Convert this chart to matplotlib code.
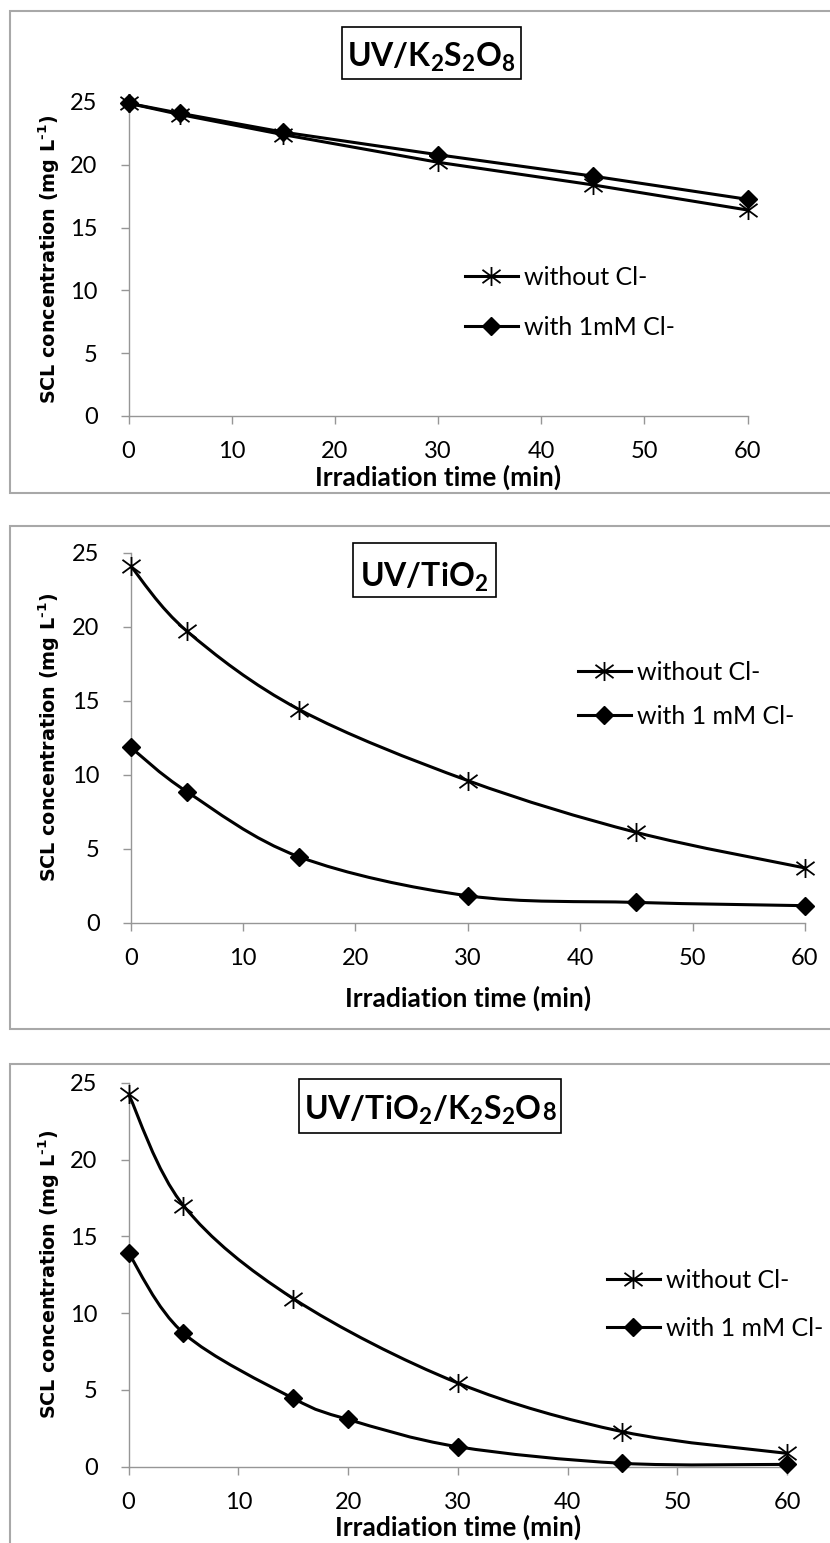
import numpy as np
import matplotlib
matplotlib.use("Agg")
import matplotlib.pyplot as plt
from matplotlib.path import Path
from matplotlib.patches import PathPatch, Rectangle
from matplotlib.lines import Line2D

# ---------------------------------------------------------------- data
time_k = [0, 5, 15, 30, 45, 60]
k_without = [24.9, 24.0, 22.4, 20.2, 18.4, 16.4]
k_with = [24.9, 24.1, 22.6, 20.8, 19.1, 17.25]

time_ti = [0, 5, 15, 30, 45, 60]
ti_without = [24.1, 19.7, 14.4, 9.6, 6.1, 3.7]
ti_with = [11.85, 8.85, 4.45, 1.82, 1.37, 1.15]

time_tik_without = [0, 5, 15, 30, 45, 60]
tik_without = [24.25, 17.0, 10.95, 5.45, 2.28, 0.87]
time_tik_with = [0, 5, 15, 20, 30, 45, 60]
tik_with = [13.9, 8.7, 4.45, 3.08, 1.3, 0.22, 0.15]

x_ticks = [0, 10, 20, 30, 40, 50, 60]
y_ticks = [0, 5, 10, 15, 20, 25]
x_label = "Irradiation time (min)"
y_label = "SCL concentration (mg L$^{\u20101}$)"

# ---------------------------------------------------------------- style
W, H, DPI = 830, 1543, 100
plt.rcParams["mathtext.default"] = "regular"
TICK_FONT = ["Lato", "DejaVu Sans"]
YLAB_FONT = ["DejaVu Sans"]
GRAY_AX = "#969696"
GRAY_FRAME = "#a8a8a8"

# asterisk marker: vertical stroke crossed by an X
star = Path([(0, -1), (0, 1), (-0.95, -0.7), (0.95, 0.7), (-0.95, 0.7), (0.95, -0.7)],
            [Path.MOVETO, Path.LINETO, Path.MOVETO, Path.LINETO, Path.MOVETO, Path.LINETO])
STAR_KW = dict(marker=star, markersize=13.7, markeredgewidth=1.3,
               markeredgecolor="black", markerfacecolor="none")
DIAM_KW = dict(marker="D", markersize=8.8, markeredgewidth=1.0,
               markeredgecolor="black", markerfacecolor="black")
LW = 2.2

fig = plt.figure(figsize=(W / DPI, H / DPI), dpi=DPI)
fig.patch.set_facecolor("white")


def px_rect(left, right, top, bottom):
    return [left / W, 1 - bottom / H, (right - left) / W, (bottom - top) / H]


def smooth_path(x, y):
    """Cardinal-spline Bezier path through the points (Excel-like smoothing)."""
    pts = np.column_stack([x, y]).astype(float)
    n = len(pts)
    verts = [pts[0]]
    codes = [Path.MOVETO]
    for i in range(n - 1):
        p0 = pts[i - 1] if i > 0 else pts[i]
        p1, p2 = pts[i], pts[i + 1]
        p3 = pts[i + 2] if i + 2 < n else pts[i + 1]
        verts += [p1 + (p2 - p0) / 6.0, p2 - (p3 - p1) / 6.0, p2]
        codes += [Path.CURVE4] * 3
    return Path(verts, codes)


def frame(left, top, bottom=None):
    xs = [W + 5, left, left] + ([W + 5] if bottom is not None else [])
    ys = [top, top, bottom if bottom is not None else H + 5] + ([bottom] if bottom is not None else [])
    fig.add_artist(Line2D([v / W for v in xs], [1 - v / H for v in ys],
                          transform=fig.transFigure, color=GRAY_FRAME, lw=1.5,
                          solid_joinstyle="miter"))


def title_box(box, baseline, main, tail=None):
    l, r, t, b = box
    fig.add_artist(Rectangle((l / W, 1 - b / H), (r - l) / W, (b - t) / H,
                             transform=fig.transFigure, fill=False,
                             edgecolor="black", lw=1.2))
    kw = dict(family=TICK_FONT, weight="bold", va="baseline", ha="left")
    txt = fig.text(0, 1 - baseline / H, main, size=23, **kw)
    rend = fig.canvas.get_renderer()
    bb = txt.get_window_extent(rend)
    width = bb.width
    tail_txt = None
    if tail:
        tail_txt = fig.text(0, 1 - baseline / H, tail, size=17, **kw)
        width += tail_txt.get_window_extent(rend).width
    x0 = (l + r) / 2 - width / 2
    txt.set_x(x0 / W)
    if tail_txt is not None:
        tail_txt.set_x((x0 + bb.width) / W)


def setup_axes(rect, xlab_center, ylab_x):
    ax = fig.add_axes(px_rect(*rect))
    left, right, top, bottom = rect
    ax.set_xlim(0, 60)
    ax.set_ylim(0, 25)
    ax.set_xticks(x_ticks)
    ax.set_yticks(y_ticks)
    for s in ("top", "right"):
        ax.spines[s].set_visible(False)
    for s in ("left", "bottom"):
        ax.spines[s].set_color(GRAY_AX)
        ax.spines[s].set_linewidth(1.0)
    ax.tick_params(axis="both", direction="out", length=5.8, width=1.0,
                   color=GRAY_AX, labelsize=17, labelcolor="black")
    ax.tick_params(axis="x", pad=12.5)
    ax.tick_params(axis="y", pad=16.5)
    for lab in ax.get_xticklabels() + ax.get_yticklabels():
        lab.set_family(TICK_FONT)
    ax.set_xlabel(x_label, family=TICK_FONT, weight="bold", size=19)
    ax.set_ylabel(y_label, family=YLAB_FONT, weight="bold", size=13.8)
    ax.xaxis.label.set_va("center")
    ax.yaxis.label.set_va("center")
    hpx, wpx = bottom - top, right - left
    ax.xaxis.set_label_coords(0.5, -(xlab_center - bottom) / hpx)
    ax.yaxis.set_label_coords(-(left - ylab_x) / wpx, 0.5)
    ax.set_facecolor("none")
    return ax


def draw_series(ax, x, y, mkw, smooth):
    if smooth:
        ax.add_patch(PathPatch(smooth_path(x, y), fill=False, edgecolor="black",
                               lw=LW, clip_on=False, zorder=3))
    else:
        ax.plot(x, y, color="black", lw=LW, clip_on=False, zorder=3)
    ax.plot(x, y, ls="none", clip_on=False, zorder=4, **mkw)


def add_legend(ax, labels, x_px, ymid_px, spacing):
    handles = [Line2D([], [], color="black", lw=LW, **STAR_KW),
               Line2D([], [], color="black", lw=LW, **DIAM_KW)]
    leg = ax.legend(handles, labels, loc="center left",
                    bbox_to_anchor=(x_px / W, 1 - ymid_px / H),
                    bbox_transform=fig.transFigure, frameon=False,
                    borderpad=0, borderaxespad=0, handlelength=2.1,
                    handletextpad=0.25, labelspacing=spacing, numpoints=1,
                    prop={"family": TICK_FONT, "size": 18})
    return leg


# ---------------------------------------------------------------- panel 1
frame(9.5, 11, 493)
ax1 = setup_axes((128.6, 747.6, 102, 416), 477, 49)
draw_series(ax1, time_k, k_without, STAR_KW, smooth=False)
draw_series(ax1, time_k, k_with, DIAM_KW, smooth=False)
add_legend(ax1, ["without Cl-", "with 1mM Cl-"], 465, 302.5, 1.08)
title_box((342, 521, 27, 79), 67, r"$UV/K_2S_2O_8$")

# ---------------------------------------------------------------- panel 2
frame(9.5, 526, 1029)
ax2 = setup_axes((130.7, 805, 552.7, 922.7), 998, 49)
draw_series(ax2, time_ti, ti_without, STAR_KW, smooth=True)
draw_series(ax2, time_ti, ti_with, DIAM_KW, smooth=True)
add_legend(ax2, ["without Cl-", "with 1 mM Cl-"], 578, 694.5, 0.84)
title_box((353, 496, 543, 597), 587, r"$UV/TiO_2$")

# ---------------------------------------------------------------- panel 3
frame(9.5, 1064)
ax3 = setup_axes((128.6, 787, 1082.7, 1466.7), 1527, 49)
draw_series(ax3, time_tik_without, tik_without, STAR_KW, smooth=True)
draw_series(ax3, time_tik_with, tik_with, DIAM_KW, smooth=True)
add_legend(ax3, ["without Cl-", "with 1 mM Cl-"], 607, 1304.5, 1.0)
title_box((299, 561, 1079, 1133), 1120, r"$UV/TiO_2/K_2S_2O$", tail="8")

fig.savefig("out.png", dpi=DPI, facecolor="white")
